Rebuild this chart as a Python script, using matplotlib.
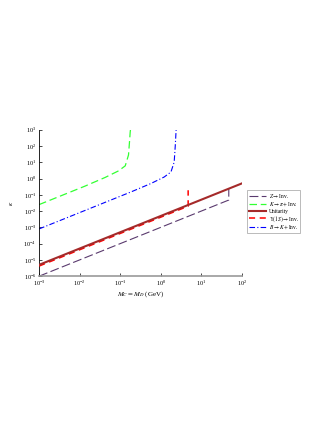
import numpy as np
import matplotlib.pyplot as plt
from matplotlib.ticker import LogLocator, NullLocator

plt.rcParams['font.family'] = ['Liberation Serif', 'DejaVu Serif']
plt.rcParams['mathtext.fontset'] = 'stix'

# Z -> Inv. (ends at M_Z/2 and jumps up to the unitarity line)
z_m = [1e-3, 47.5, 47.5]
z_k = [1.0e-6, 0.0475, 0.24]

# K -> pi + Inv.
k_m = [1e-3, 1.35e-2, 4.27e-2, 9.1e-2, 0.133, 0.160, 0.171, 0.176, 0.179]
k_k = [0.025, 0.34, 1.17, 2.95, 6.0, 28.0, 250.0, 700.0, 1000.0]

# unitarity bound
u_m = [1e-3, 100.0]
u_k = [5.0e-6, 0.5]

# Upsilon(1S) -> Inv.
y_m = [1e-3, 4.73, 4.73]
y_k = [4.2e-6, 0.020, 0.19]

# B -> K + Inv.
b_m = [1e-3, 0.181, 0.568, 1.21, 1.78, 2.14, 2.28, 2.39]
b_k = [8.0e-4, 0.147, 0.49, 1.23, 2.51, 10.2, 110.0, 1000.0]

fig = plt.figure(figsize=(3.26, 4.21), dpi=100)
ax = fig.add_axes([0.12, 0.344, 0.622, 0.348])

ax.plot(z_m, z_k, color='#5a3a6e', lw=0.8, ls=(0, (8, 3)), label=r'$Z\to$Inv.')
ax.plot(k_m, k_k, color='#33ff33', lw=0.9, ls=(0, (6, 3)), label=r'$K\to\pi+$Inv.')
ax.plot(u_m, u_k, color='#a52a2a', lw=1.5, label='Unitarity', zorder=4)
ax.plot(y_m, y_k, color='#ff0000', lw=1.1, ls=(0, (4, 3)), label=r'$\Upsilon(1S)\to$Inv.', zorder=3)
ax.plot(b_m, b_k, color='#0000ff', lw=0.8, ls=(0, (5, 2, 1, 2)), label=r'$B\to K+$Inv.')

ax.set_xscale('log')
ax.set_yscale('log')
ax.set_xlim(1e-3, 1e2)
ax.set_ylim(1e-6, 1e3)
ax.xaxis.set_major_locator(LogLocator(base=10, numticks=10))
ax.yaxis.set_major_locator(LogLocator(base=10, numticks=12))
ax.xaxis.set_minor_locator(NullLocator())
ax.yaxis.set_minor_locator(NullLocator())
ax.tick_params(direction='in', length=2, width=0.5, labelsize=4.5, pad=2)

for s in ['top', 'right']:
    ax.spines[s].set_visible(False)
ax.spines['left'].set_linewidth(0.6)
ax.spines['bottom'].set_linewidth(1.2)
ax.spines['bottom'].set_color('#999999')

ax.set_xlabel(r'$M_C=M_D$ (GeV)', fontsize=5, labelpad=1)
ax.set_ylabel(r'$\kappa$', fontsize=5, labelpad=6)

leg = ax.legend(loc='upper left', bbox_to_anchor=(1.025, 0.585), fontsize=4,
                frameon=True, fancybox=False, edgecolor='#888888',
                handlelength=3.2, labelspacing=0.1, borderpad=0.3,
                handletextpad=0.4, borderaxespad=0.0)
leg.get_frame().set_linewidth(0.5)

fig.savefig('out.png', dpi=100)
